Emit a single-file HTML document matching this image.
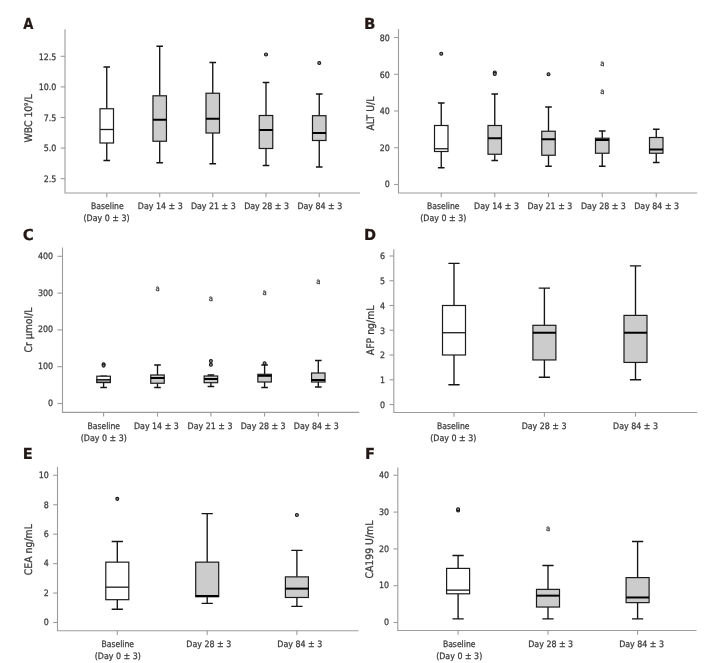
<!DOCTYPE html>
<html lang="en">
<head>
<meta charset="utf-8">
<title>Box plots</title>
<style>
html,body{margin:0;padding:0;background:#fff;}
body{width:713px;height:663px;overflow:hidden;}
svg{display:block;}
text{font-family:'DejaVu Sans Condensed', 'Liberation Sans', sans-serif;text-rendering:geometricPrecision;}
.tk{font-size:8.8px;fill:#3a3a3a;stroke:#3a3a3a;stroke-width:0.25;}
.xl{font-size:8.8px;fill:#3a3a3a;stroke:#3a3a3a;stroke-width:0.25;}
.yl{font-size:10.4px;fill:#3a3a3a;stroke:#3a3a3a;stroke-width:0.25;}
.pl{font-size:15.2px;font-weight:bold;fill:#231815;stroke:#231815;stroke-width:0.2;}
.am{font-size:7.6px;fill:#3a3a3a;stroke:#3a3a3a;stroke-width:0.3;}
.axl{stroke:#9c9c9c;stroke-width:1.1;fill:none;}
.bx{stroke:#1c1c1c;stroke-width:1.2;}
.wk{stroke:#151515;stroke-width:1.35;fill:none;}
.md{stroke:#000;stroke-width:2;fill:none;}
.mw{stroke:#1c1c1c;stroke-width:1.3;fill:none;}
.ot{stroke:#141414;stroke-width:1.05;fill:#8a8a8a;}
</style>
</head>
<body>
<svg width="713" height="663" viewBox="0 0 713 663">
<rect x="0" y="0" width="713" height="663" fill="#ffffff"/>

<g>
<text class="pl" transform="translate(23.3 28.9) scale(0.96 1)">A</text>
<path class="axl" d="M65 29.3V193H360"/>
<path class="axl" d="M60.7 178.7H65"/>
<text class="tk" x="56.3" y="181.9" text-anchor="end">2.5</text>
<path class="axl" d="M60.7 148.1H65"/>
<text class="tk" x="56.3" y="151.3" text-anchor="end">5.0</text>
<path class="axl" d="M60.7 117.5H65"/>
<text class="tk" x="56.3" y="120.7" text-anchor="end">7.5</text>
<path class="axl" d="M60.7 86.9H65"/>
<text class="tk" x="56.3" y="90.1" text-anchor="end">10.0</text>
<path class="axl" d="M60.7 56.3H65"/>
<text class="tk" x="56.3" y="59.5" text-anchor="end">12.5</text>
<text class="yl" transform="translate(32 118.5) rotate(-90)" text-anchor="middle">WBC 10<tspan dy="-4.2" font-size="5.2">9</tspan><tspan dy="4.2">/L</tspan></text>
<path class="axl" d="M106.75 193V197.2"/>
<path class="wk" d="M106.75 67V108.75M106.75 143V160.5M103.45 67H110.05M103.45 160.5H110.05"/>
<rect class="bx" x="100" y="108.75" width="13.5" height="34.25" fill="#ffffff"/>
<path class="mw" d="M100 129.5H113.5"/>
<text class="xl" x="107.35" y="209.3" text-anchor="middle" textLength="32.6" lengthAdjust="spacingAndGlyphs">Baseline</text>
<text class="xl" x="106.55" y="220.8" text-anchor="middle" textLength="46.05" lengthAdjust="spacingAndGlyphs">(Day 0 ± 3)</text>
<path class="axl" d="M159.7 193V197.2"/>
<path class="wk" d="M159.7 46.25V95.8M159.7 141.25V162.75M156.4 46.25H163M156.4 162.75H163"/>
<rect class="bx" x="152.95" y="95.8" width="13.5" height="45.45" fill="#cccccc"/>
<path class="md" d="M152.95 119.75H166.45"/>
<text class="xl" x="160.3" y="209.3" text-anchor="middle" textLength="44.9" lengthAdjust="spacingAndGlyphs">Day 14 ± 3</text>
<path class="axl" d="M212.75 193V197.2"/>
<path class="wk" d="M212.75 62.5V93.25M212.75 133V163.75M209.45 62.5H216.05M209.45 163.75H216.05"/>
<rect class="bx" x="206" y="93.25" width="13.5" height="39.75" fill="#cccccc"/>
<path class="md" d="M206 118.75H219.5"/>
<text class="xl" x="213.35" y="209.3" text-anchor="middle" textLength="44.9" lengthAdjust="spacingAndGlyphs">Day 21 ± 3</text>
<path class="axl" d="M266 193V197.2"/>
<path class="wk" d="M266 82.5V115.5M266 148.5V165.5M262.7 82.5H269.3M262.7 165.5H269.3"/>
<rect class="bx" x="259.25" y="115.5" width="13.5" height="33" fill="#cccccc"/>
<path class="md" d="M259.25 130H272.75"/>
<circle class="ot" cx="266" cy="54.5" r="1.5"/>
<text class="xl" x="266.6" y="209.3" text-anchor="middle" textLength="44.9" lengthAdjust="spacingAndGlyphs">Day 28 ± 3</text>
<path class="axl" d="M319.25 193V197.2"/>
<path class="wk" d="M319.25 94V115.7M319.25 140.5V167M315.95 94H322.55M315.95 167H322.55"/>
<rect class="bx" x="312.5" y="115.7" width="13.5" height="24.8" fill="#cccccc"/>
<path class="md" d="M312.5 133H326"/>
<circle class="ot" cx="319.25" cy="63" r="1.5"/>
<text class="xl" x="319.85" y="209.3" text-anchor="middle" textLength="44.9" lengthAdjust="spacingAndGlyphs">Day 84 ± 3</text>
</g>
<g>
<text class="pl" transform="translate(363.96 28.9) scale(1.1 1)">B</text>
<path class="axl" d="M398.5 29V193H697.2"/>
<path class="axl" d="M394.2 184.5H398.5"/>
<text class="tk" x="389.8" y="187" text-anchor="end">0</text>
<path class="axl" d="M394.2 147.75H398.5"/>
<text class="tk" x="389.8" y="150.53" text-anchor="end">20</text>
<path class="axl" d="M394.2 111H398.5"/>
<text class="tk" x="389.8" y="114.05" text-anchor="end">40</text>
<path class="axl" d="M394.2 74.25H398.5"/>
<text class="tk" x="389.8" y="77.58" text-anchor="end">60</text>
<path class="axl" d="M394.2 37.5H398.5"/>
<text class="tk" x="389.8" y="41.1" text-anchor="end">80</text>
<text class="yl" transform="translate(373.9 113.6) rotate(-90)" text-anchor="middle">ALT U/L</text>
<path class="axl" d="M441.25 193V197.2"/>
<path class="wk" d="M441.25 103V125.5M441.25 151.5V167.75M437.95 103H444.55M437.95 167.75H444.55"/>
<rect class="bx" x="434.5" y="125.5" width="13.5" height="26" fill="#ffffff"/>
<path class="mw" d="M434.5 148.75H448"/>
<circle class="ot" cx="441.25" cy="53.75" r="1.5"/>
<text class="xl" x="443.25" y="209.3" text-anchor="middle" textLength="32.6" lengthAdjust="spacingAndGlyphs">Baseline</text>
<text class="xl" x="443.25" y="220.8" text-anchor="middle" textLength="46.05" lengthAdjust="spacingAndGlyphs">(Day 0 ± 3)</text>
<path class="axl" d="M494.75 193V197.2"/>
<path class="wk" d="M494.75 94V125.5M494.75 154.25V160.5M491.45 94H498.05M491.45 160.5H498.05"/>
<rect class="bx" x="488" y="125.5" width="13.5" height="28.75" fill="#cccccc"/>
<path class="md" d="M488 138.25H501.5"/>
<circle class="ot" cx="494.75" cy="72.5" r="1.5"/>
<circle class="ot" cx="494.75" cy="74" r="1.5"/>
<text class="xl" x="496.55" y="209.3" text-anchor="middle" textLength="44.9" lengthAdjust="spacingAndGlyphs">Day 14 ± 3</text>
<path class="axl" d="M548.5 193V197.2"/>
<path class="wk" d="M548.5 107V131.25M548.5 155.25V166.25M545.2 107H551.8M545.2 166.25H551.8"/>
<rect class="bx" x="541.75" y="131.25" width="13.5" height="24" fill="#cccccc"/>
<path class="md" d="M541.75 139.25H555.25"/>
<circle class="ot" cx="548.5" cy="74.25" r="1.5"/>
<text class="xl" x="549.9" y="209.3" text-anchor="middle" textLength="44.9" lengthAdjust="spacingAndGlyphs">Day 21 ± 3</text>
<path class="axl" d="M602.25 193V197.2"/>
<path class="wk" d="M602.25 131V138.25M602.25 153.25V166.25M598.95 131H605.55M598.95 166.25H605.55"/>
<rect class="bx" x="595.5" y="138.25" width="13.5" height="15" fill="#cccccc"/>
<path class="md" d="M595.5 140H609"/>
<text class="am" x="602.25" y="65.75" text-anchor="middle">a</text>
<text class="am" x="602.25" y="93.5" text-anchor="middle">a</text>
<text class="xl" x="603.45" y="209.3" text-anchor="middle" textLength="44.9" lengthAdjust="spacingAndGlyphs">Day 28 ± 3</text>
<path class="axl" d="M656.25 193V197.2"/>
<path class="wk" d="M656.25 129.25V137.5M656.25 153.25V162.5M652.95 129.25H659.55M652.95 162.5H659.55"/>
<rect class="bx" x="649.5" y="137.5" width="13.5" height="15.75" fill="#cccccc"/>
<path class="md" d="M649.5 149.5H663"/>
<text class="xl" x="656.65" y="209.3" text-anchor="middle" textLength="44.9" lengthAdjust="spacingAndGlyphs">Day 84 ± 3</text>
</g>
<g>
<text class="pl" transform="translate(22.75 240.35) scale(1.1 1)">C</text>
<path class="axl" d="M62.5 247.5V412.35H359.3"/>
<path class="axl" d="M57.4 403.5H62.5"/>
<text class="tk" x="53.1" y="405.9" text-anchor="end">0</text>
<path class="axl" d="M57.4 366.7H62.5"/>
<text class="tk" x="53.1" y="369.1" text-anchor="end">100</text>
<path class="axl" d="M57.4 329.9H62.5"/>
<text class="tk" x="53.1" y="332.3" text-anchor="end">200</text>
<path class="axl" d="M57.4 293.1H62.5"/>
<text class="tk" x="53.1" y="295.5" text-anchor="end">300</text>
<path class="axl" d="M57.4 256.3H62.5"/>
<text class="tk" x="53.1" y="258.7" text-anchor="end">400</text>
<text class="yl" transform="translate(32.3 330) rotate(-90)" text-anchor="middle">Cr μmol/L</text>
<path class="axl" d="M103.6 412.35V416.55"/>
<path class="wk" d="M103.6 376.25V376.2M103.6 382.5V387.5M100.3 376.25H106.9M100.3 387.5H106.9"/>
<rect class="bx" x="96.85" y="376.2" width="13.5" height="6.3" fill="#ffffff"/>
<rect x="96.85" y="379.6" width="13.5" height="2.9" fill="#9a9a9a" stroke="#1c1c1c" stroke-width="1.2"/>
<path class="mw" d="M96.85 379.6H110.35"/>
<circle class="ot" cx="103.6" cy="364.3" r="1.5"/>
<circle class="ot" cx="103.6" cy="365.6" r="1.5"/>
<text class="xl" x="103.75" y="428.5" text-anchor="middle" textLength="32.6" lengthAdjust="spacingAndGlyphs">Baseline</text>
<text class="xl" x="103.75" y="441.3" text-anchor="middle" textLength="46.05" lengthAdjust="spacingAndGlyphs">(Day 0 ± 3)</text>
<path class="axl" d="M157.5 412.35V416.55"/>
<path class="wk" d="M157.5 365V375M157.5 383.25V387.5M154.2 365H160.8M154.2 387.5H160.8"/>
<rect class="bx" x="150.75" y="375" width="13.5" height="8.25" fill="#cccccc"/>
<path class="md" d="M150.75 378H164.25"/>
<text class="am" x="157.5" y="291.4" text-anchor="middle">a</text>
<text class="xl" x="156.4" y="428.5" text-anchor="middle" textLength="44.9" lengthAdjust="spacingAndGlyphs">Day 14 ± 3</text>
<path class="axl" d="M210.9 412.35V416.55"/>
<path class="wk" d="M210.9 375V376M210.9 382.7V386.5M207.6 375H214.2M207.6 386.5H214.2"/>
<rect class="bx" x="204.15" y="376" width="13.5" height="6.7" fill="#cccccc"/>
<path class="md" d="M204.15 379H217.65"/>
<circle class="ot" cx="210.9" cy="361" r="1.5"/>
<circle class="ot" cx="210.9" cy="364.8" r="1.5"/>
<text class="am" x="210.9" y="301" text-anchor="middle">a</text>
<text class="xl" x="210.05" y="428.5" text-anchor="middle" textLength="44.9" lengthAdjust="spacingAndGlyphs">Day 21 ± 3</text>
<path class="axl" d="M264.6 412.35V416.55"/>
<path class="wk" d="M264.6 365V374.3M264.6 382V387.5M261.3 365H267.9M261.3 387.5H267.9"/>
<rect class="bx" x="257.85" y="374.3" width="13.5" height="7.7" fill="#cccccc"/>
<path class="md" d="M257.85 375.8H271.35"/>
<circle class="ot" cx="264.6" cy="363.3" r="1.5"/>
<text class="am" x="264.6" y="295" text-anchor="middle">a</text>
<text class="xl" x="263.2" y="428.5" text-anchor="middle" textLength="44.9" lengthAdjust="spacingAndGlyphs">Day 28 ± 3</text>
<path class="axl" d="M318.3 412.35V416.55"/>
<path class="wk" d="M318.3 360.5V373M318.3 382V387M315 360.5H321.6M315 387H321.6"/>
<rect class="bx" x="311.55" y="373" width="13.5" height="9" fill="#cccccc"/>
<path class="md" d="M311.55 380H325.05"/>
<text class="am" x="318.3" y="284" text-anchor="middle">a</text>
<text class="xl" x="316.25" y="428.5" text-anchor="middle" textLength="44.9" lengthAdjust="spacingAndGlyphs">Day 84 ± 3</text>
</g>
<g>
<text class="pl" transform="translate(364.1 240.1) scale(1.06 1)">D</text>
<path class="axl" d="M393.8 249.25V412.45H697.2"/>
<path class="axl" d="M389.5 404.5H393.8"/>
<text class="tk" x="385.1" y="407.6" text-anchor="end">0</text>
<path class="axl" d="M389.5 379.75H393.8"/>
<text class="tk" x="385.1" y="382.9" text-anchor="end">1</text>
<path class="axl" d="M389.5 355H393.8"/>
<text class="tk" x="385.1" y="358.2" text-anchor="end">2</text>
<path class="axl" d="M389.5 330.25H393.8"/>
<text class="tk" x="385.1" y="333.5" text-anchor="end">3</text>
<path class="axl" d="M389.5 305.5H393.8"/>
<text class="tk" x="385.1" y="308.8" text-anchor="end">4</text>
<path class="axl" d="M389.5 280.75H393.8"/>
<text class="tk" x="385.1" y="284.1" text-anchor="end">5</text>
<path class="axl" d="M389.5 256H393.8"/>
<text class="tk" x="385.1" y="259.4" text-anchor="end">6</text>
<text class="yl" transform="translate(373.9 330.4) rotate(-90)" text-anchor="middle">AFP ng/mL</text>
<path class="axl" d="M454 412.45V416.65"/>
<path class="wk" d="M454 263.42V305.5M454 355V384.7M448.38 263.42H459.62M448.38 384.7H459.62"/>
<rect class="bx" x="442.5" y="305.5" width="23" height="49.5" fill="#ffffff"/>
<path class="mw" d="M442.5 332.73H465.5"/>
<text class="xl" x="453.3" y="428.5" text-anchor="middle" textLength="32.6" lengthAdjust="spacingAndGlyphs">Baseline</text>
<text class="xl" x="453.3" y="441.3" text-anchor="middle" textLength="46.05" lengthAdjust="spacingAndGlyphs">(Day 0 ± 3)</text>
<path class="axl" d="M544.4 412.45V416.65"/>
<path class="wk" d="M544.4 288.18V325.3M544.4 359.95V377.27M538.77 288.18H550.02M538.77 377.27H550.02"/>
<rect class="bx" x="532.9" y="325.3" width="23" height="34.65" fill="#cccccc"/>
<path class="md" d="M532.9 332.73H555.9"/>
<text class="xl" x="544.1" y="428.5" text-anchor="middle" textLength="44.9" lengthAdjust="spacingAndGlyphs">Day 28 ± 3</text>
<path class="axl" d="M635.5 412.45V416.65"/>
<path class="wk" d="M635.5 265.9V315.4M635.5 362.43V379.75M629.88 265.9H641.12M629.88 379.75H641.12"/>
<rect class="bx" x="624" y="315.4" width="23" height="47.03" fill="#cccccc"/>
<path class="md" d="M624 332.73H647"/>
<text class="xl" x="635.5" y="428.5" text-anchor="middle" textLength="44.9" lengthAdjust="spacingAndGlyphs">Day 84 ± 3</text>
</g>
<g>
<text class="pl" transform="translate(22.8 459.05) scale(1.07 1)">E</text>
<path class="axl" d="M57.5 467V630.75H358.5"/>
<path class="axl" d="M53.2 622.5H57.5"/>
<text class="tk" x="48.8" y="624.8" text-anchor="end">0</text>
<path class="axl" d="M53.2 593.06H57.5"/>
<text class="tk" x="48.8" y="595.52" text-anchor="end">2</text>
<path class="axl" d="M53.2 563.62H57.5"/>
<text class="tk" x="48.8" y="566.24" text-anchor="end">4</text>
<path class="axl" d="M53.2 534.18H57.5"/>
<text class="tk" x="48.8" y="536.96" text-anchor="end">6</text>
<path class="axl" d="M53.2 504.74H57.5"/>
<text class="tk" x="48.8" y="507.68" text-anchor="end">8</text>
<path class="axl" d="M53.2 475.3H57.5"/>
<text class="tk" x="48.8" y="478.4" text-anchor="end">10</text>
<text class="yl" transform="translate(31.8 549.7) rotate(-90)" text-anchor="middle">CEA ng/mL</text>
<path class="axl" d="M117.3 630.75V634.95"/>
<path class="wk" d="M117.3 541.54V562.15M117.3 599.68V609.25M111.67 541.54H122.92M111.67 609.25H122.92"/>
<rect class="bx" x="105.8" y="562.15" width="23" height="37.54" fill="#ffffff"/>
<path class="mw" d="M105.8 587.17H128.8"/>
<circle class="ot" cx="117.3" cy="498.85" r="1.5"/>
<text class="xl" x="117.75" y="647.3" text-anchor="middle" textLength="32.6" lengthAdjust="spacingAndGlyphs">Baseline</text>
<text class="xl" x="117.75" y="658.75" text-anchor="middle" textLength="46.05" lengthAdjust="spacingAndGlyphs">(Day 0 ± 3)</text>
<path class="axl" d="M207.2 630.75V634.95"/>
<path class="wk" d="M207.2 513.57V562.15M207.2 596.74V603.36M201.57 513.57H212.82M201.57 603.36H212.82"/>
<rect class="bx" x="195.7" y="562.15" width="23" height="34.59" fill="#cccccc"/>
<path class="md" d="M195.7 596H218.7"/>
<text class="xl" x="208.75" y="647.3" text-anchor="middle" textLength="44.9" lengthAdjust="spacingAndGlyphs">Day 28 ± 3</text>
<path class="axl" d="M296.9 630.75V634.95"/>
<path class="wk" d="M296.9 550.37V576.87M296.9 597.48V606.31M291.27 550.37H302.52M291.27 606.31H302.52"/>
<rect class="bx" x="285.4" y="576.87" width="23" height="20.61" fill="#cccccc"/>
<path class="md" d="M285.4 588.64H308.4"/>
<circle class="ot" cx="296.9" cy="515.04" r="1.5"/>
<text class="xl" x="299.75" y="647.3" text-anchor="middle" textLength="44.9" lengthAdjust="spacingAndGlyphs">Day 84 ± 3</text>
</g>
<g>
<text class="pl" transform="translate(365.09 459.05) scale(1.07 1)">F</text>
<path class="axl" d="M397.8 467.5V630.5H696.5"/>
<path class="axl" d="M393.5 622.5H397.8"/>
<text class="tk" x="389.1" y="625.1" text-anchor="end">0</text>
<path class="axl" d="M393.5 585.7H397.8"/>
<text class="tk" x="389.1" y="588.3" text-anchor="end">10</text>
<path class="axl" d="M393.5 548.9H397.8"/>
<text class="tk" x="389.1" y="551.5" text-anchor="end">20</text>
<path class="axl" d="M393.5 512.1H397.8"/>
<text class="tk" x="389.1" y="514.7" text-anchor="end">30</text>
<path class="axl" d="M393.5 475.3H397.8"/>
<text class="tk" x="389.1" y="477.9" text-anchor="end">40</text>
<text class="yl" transform="translate(373 549.6) rotate(-90)" text-anchor="middle">CA199 U/mL</text>
<path class="axl" d="M458.1 630.5V634.7"/>
<path class="wk" d="M458.1 555.52V568.4M458.1 593.8V618.82M452.48 555.52H463.73M452.48 618.82H463.73"/>
<rect class="bx" x="446.6" y="568.4" width="23" height="25.39" fill="#ffffff"/>
<path class="mw" d="M446.6 590.12H469.6"/>
<circle class="ot" cx="458.1" cy="510.55" r="1.5"/>
<circle class="ot" cx="458.1" cy="509.34" r="1.5"/>
<text class="xl" x="459.2" y="647.3" text-anchor="middle" textLength="32.6" lengthAdjust="spacingAndGlyphs">Baseline</text>
<text class="xl" x="459.2" y="658.75" text-anchor="middle" textLength="46.05" lengthAdjust="spacingAndGlyphs">(Day 0 ± 3)</text>
<path class="axl" d="M548 630.5V634.7"/>
<path class="wk" d="M548 565.46V589.38M548 607.04V618.82M542.38 565.46H553.62M542.38 618.82H553.62"/>
<rect class="bx" x="536.5" y="589.38" width="23" height="17.66" fill="#cccccc"/>
<path class="md" d="M536.5 595.64H559.5"/>
<text class="am" x="548" y="531.03" text-anchor="middle">a</text>
<text class="xl" x="550.7" y="647.3" text-anchor="middle" textLength="44.9" lengthAdjust="spacingAndGlyphs">Day 28 ± 3</text>
<path class="axl" d="M637.6 630.5V634.7"/>
<path class="wk" d="M637.6 541.54V577.6M637.6 602.63V618.82M631.98 541.54H643.23M631.98 618.82H643.23"/>
<rect class="bx" x="626.1" y="577.6" width="23" height="25.02" fill="#cccccc"/>
<path class="md" d="M626.1 597.48H649.1"/>
<text class="xl" x="641.6" y="647.3" text-anchor="middle" textLength="44.9" lengthAdjust="spacingAndGlyphs">Day 84 ± 3</text>
</g>
</svg>
</body>
</html>
